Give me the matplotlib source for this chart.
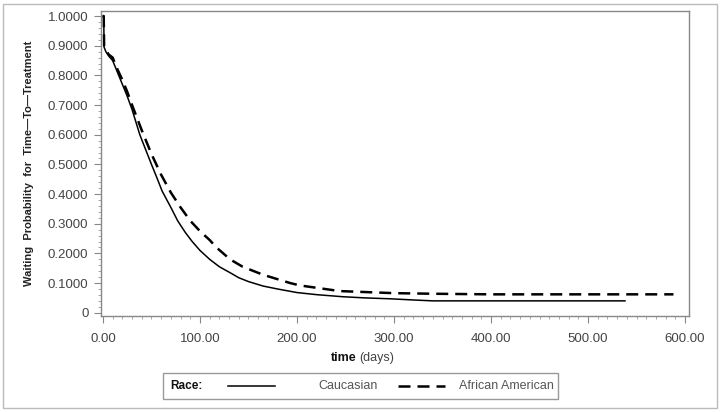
import matplotlib.pyplot as plt
from matplotlib.lines import Line2D
from matplotlib.patches import Rectangle
from matplotlib.ticker import MultipleLocator, FuncFormatter

plt.rcParams["font.family"] = ["Liberation Sans", "DejaVu Sans"]

# Waiting probability curves
cauc_t = [0, 0.8, 1.2, 3, 6, 10, 15, 20, 25, 30, 38, 44, 50, 55, 61, 70, 77, 85, 92, 100,
          110, 120, 131, 140, 150, 165, 180, 200, 220, 247, 270, 296, 320, 340, 400, 480, 538]
cauc_p = [1.0, 1.0, 0.895, 0.88, 0.865, 0.85, 0.81, 0.77, 0.73, 0.685, 0.60, 0.55, 0.50, 0.46,
          0.41, 0.355, 0.31, 0.27, 0.24, 0.21, 0.18, 0.155, 0.135, 0.118, 0.105, 0.09, 0.08,
          0.068, 0.061, 0.054, 0.05, 0.047, 0.043, 0.04, 0.04, 0.04, 0.04]

afam_t = [0, 0.8, 1.2, 3, 6, 10, 15, 20, 25, 30, 40, 50, 60, 70, 80, 90, 100, 110, 117,
          124, 131, 144, 165, 193, 203, 244, 300, 340, 400, 500, 588]
afam_p = [1.0, 1.0, 0.90, 0.885, 0.87, 0.86, 0.82, 0.785, 0.745, 0.70, 0.615, 0.535, 0.465,
          0.405, 0.355, 0.31, 0.275, 0.245, 0.22, 0.20, 0.18, 0.155, 0.128, 0.10, 0.092, 0.073,
          0.066, 0.064, 0.062, 0.062, 0.062]

series_labels = ["Caucasian", "African American"]
legend_title = "Race:"

W, H = 721, 412
fig = plt.figure(figsize=(W / 100, H / 100), dpi=100)

# outer light frame
fig.add_artist(Rectangle((3 / W, 4 / H), 714 / W, 404 / H, transform=fig.transFigure,
                         fill=False, edgecolor="#bbbbbb", linewidth=1.0))

ax = fig.add_axes([101 / W, 1 - 316 / H, 588 / W, 305 / H])

dash = (4.8, 2.8)
ax.plot(cauc_t, cauc_p, "-", color="black", linewidth=1.1)
ax.plot(afam_t, afam_p, color="black", linewidth=1.8, dashes=dash)

ax.set_xlim(-2, 604)
ax.set_ylim(-0.011, 1.017)

ax.xaxis.set_major_locator(MultipleLocator(100))
ax.xaxis.set_minor_locator(MultipleLocator(10))
ax.yaxis.set_major_locator(MultipleLocator(0.1))
ax.yaxis.set_minor_locator(MultipleLocator(0.02))
ax.xaxis.set_major_formatter(FuncFormatter(lambda v, p: f"{v:.2f}"))
ax.yaxis.set_major_formatter(FuncFormatter(lambda v, p: "0" if abs(v) < 1e-9 else f"{v:.4f}"))

for s in ax.spines.values():
    s.set_color("#888888")
    s.set_linewidth(1.0)
ax.tick_params(which="major", direction="out", length=5, color="#888888", width=0.8,
               labelsize=9.5, labelcolor="#444444", pad=4)
ax.tick_params(axis="x", which="major", pad=7)
ax.tick_params(which="minor", direction="out", length=2.5, color="#999999", width=0.6)

ax.set_ylabel("Waiting  Probability  for  Time\u2014To\u2014Treatment", fontsize=8,
              fontweight="bold", color="#222222", labelpad=10)

# x axis title: bold "time" plus regular "(days)"
fig.text(344 / W, 1 - 358 / H, "time", fontsize=9, fontweight="bold", ha="center",
         va="center", color="#111111")
fig.text(377 / W, 1 - 358 / H, "(days)", fontsize=9, ha="center", va="center",
         color="#444444")

# legend box
fig.add_artist(Rectangle((163 / W, 1 - 399 / H), 395 / W, 26 / H, transform=fig.transFigure,
                         fill=False, edgecolor="#999999", linewidth=1.0))
ly = 1 - 386 / H
fig.text(170 / W, ly, legend_title, fontsize=8.5, fontweight="bold", va="center",
         color="#111111")
fig.add_artist(Line2D([228 / W, 275 / W], [ly, ly], transform=fig.transFigure,
                      color="black", linewidth=1.1))
fig.text(348 / W, ly, series_labels[0], fontsize=9, ha="center", va="center", color="#555555")
fig.add_artist(Line2D([398 / W, 445 / W], [ly, ly], transform=fig.transFigure,
                      color="black", linewidth=1.8, dashes=dash))
fig.text(506 / W, ly, series_labels[1], fontsize=9, ha="center", va="center", color="#555555")

fig.savefig("out.png", dpi=100)
